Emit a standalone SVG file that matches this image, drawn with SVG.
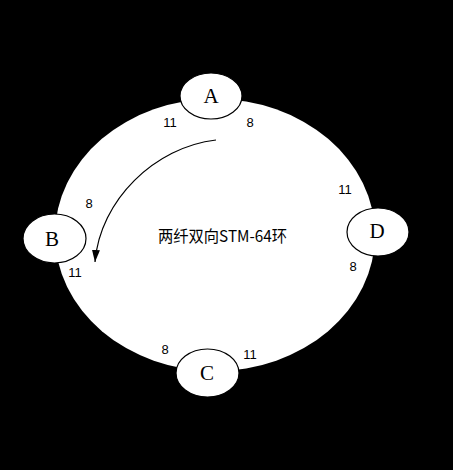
<svg xmlns="http://www.w3.org/2000/svg" width="453" height="470" viewBox="0 0 453 470">
<style>
.node{fill:#fff;stroke:#000;stroke-width:1.2}
.nl{font-family:"Liberation Serif",serif;font-size:21px;fill:#000;text-anchor:middle;dominant-baseline:central}
.pl{font-family:"Liberation Sans",sans-serif;font-size:13px;fill:#000;text-anchor:middle;dominant-baseline:central}
.t{font-family:"Noto Sans CJK SC",sans-serif;font-size:16px;fill:#000;dominant-baseline:central}
</style>
<defs>
<marker id="ah" viewBox="0 0 12 8" refX="12" refY="4" markerWidth="12" markerHeight="8" markerUnits="userSpaceOnUse" orient="auto">
<path d="M0,0 L12,4 L0,8 Z" fill="#000"/>
</marker>
</defs>
<rect width="453" height="470" fill="#000"/>
<ellipse id="ring" cx="215" cy="235" rx="160" ry="136" fill="#fff"/>
<text class="t" x="158" y="235" textLength="129" lengthAdjust="spacingAndGlyphs">两纤双向STM-64环</text>
<g id="connectors">
<path d="M216,140 C155,147 100,200 95,262" fill="none" stroke="#000" stroke-width="1.2" marker-end="url(#ah)"/>
</g>
<g id="A">
<ellipse class="node" cx="211" cy="96" rx="31" ry="23"/>
<text class="nl" x="211" y="96">A</text>
<text class="pl" x="170" y="122">11</text>
<text class="pl" x="250" y="122">8</text>
</g>
<g id="B">
<ellipse class="node" cx="54.5" cy="238.5" rx="31.5" ry="24.5"/>
<text class="nl" x="52" y="239">B</text>
<text class="pl" x="89" y="203">8</text>
<text class="pl" x="75" y="272">11</text>
</g>
<g id="D">
<ellipse class="node" cx="378" cy="232" rx="31" ry="24"/>
<text class="nl" x="377" y="231">D</text>
<text class="pl" x="345" y="189">11</text>
<text class="pl" x="353" y="266">8</text>
</g>
<g id="C">
<ellipse class="node" cx="207.5" cy="373" rx="31.5" ry="24"/>
<text class="nl" x="207" y="373">C</text>
<text class="pl" x="165" y="349">8</text>
<text class="pl" x="250" y="354">11</text>
</g>
</svg>
